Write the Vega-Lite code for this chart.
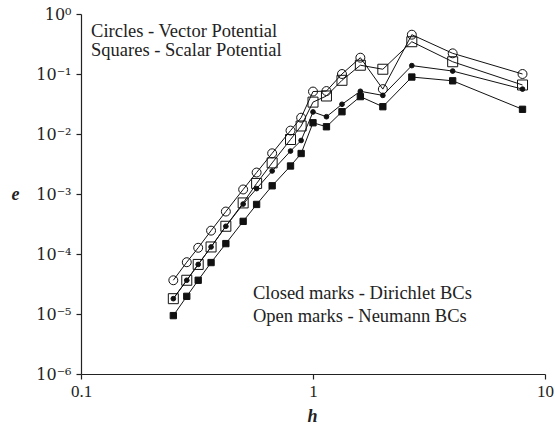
{
  "$schema": "https://vega.github.io/schema/vega-lite/v6.json",
  "width": 464,
  "height": 360,
  "autosize": {"type": "none"},
  "padding": {"left": 81, "top": 14, "right": 10, "bottom": 56},
  "background": "white",
  "config": {
    "view": {"stroke": null},
    "font": "Liberation Serif",
    "axis": {"grid": false, "domainColor": "#222", "tickColor": "#222", "labelColor": "#222", "titleColor": "#222", "labelFont": "Liberation Serif", "titleFont": "Liberation Serif", "labelFontSize": 17, "titleFontSize": 18, "tickSize": 5, "domainWidth": 1.2, "tickWidth": 1.2}
  },
  "datasets": {
    "pts": [
      {"h": 0.25, "e": 3.65e-5, "series": "Vector Neumann"},
      {"h": 0.2857, "e": 7.3e-5, "series": "Vector Neumann"},
      {"h": 0.32, "e": 1.27e-4, "series": "Vector Neumann"},
      {"h": 0.3636, "e": 2.45e-4, "series": "Vector Neumann"},
      {"h": 0.4211, "e": 5.1e-4, "series": "Vector Neumann"},
      {"h": 0.5, "e": 1.19e-3, "series": "Vector Neumann"},
      {"h": 0.5714, "e": 2.28e-3, "series": "Vector Neumann"},
      {"h": 0.6667, "e": 4.77e-3, "series": "Vector Neumann"},
      {"h": 0.8, "e": 1.14e-2, "series": "Vector Neumann"},
      {"h": 0.8889, "e": 1.87e-2, "series": "Vector Neumann"},
      {"h": 1, "e": 5.1e-2, "series": "Vector Neumann"},
      {"h": 1.1429, "e": 5.2e-2, "series": "Vector Neumann"},
      {"h": 1.3333, "e": 0.1, "series": "Vector Neumann"},
      {"h": 1.6, "e": 0.187, "series": "Vector Neumann"},
      {"h": 2, "e": 0.056, "series": "Vector Neumann"},
      {"h": 2.6667, "e": 0.452, "series": "Vector Neumann"},
      {"h": 4, "e": 0.221, "series": "Vector Neumann"},
      {"h": 8, "e": 0.1, "series": "Vector Neumann"},

      {"h": 0.25, "e": 1.8e-5, "series": "Scalar Neumann"},
      {"h": 0.2857, "e": 3.65e-5, "series": "Scalar Neumann"},
      {"h": 0.32, "e": 6.7e-5, "series": "Scalar Neumann"},
      {"h": 0.3636, "e": 1.31e-4, "series": "Scalar Neumann"},
      {"h": 0.4211, "e": 2.9e-4, "series": "Scalar Neumann"},
      {"h": 0.5, "e": 7.1e-4, "series": "Scalar Neumann"},
      {"h": 0.5714, "e": 1.5e-3, "series": "Scalar Neumann"},
      {"h": 0.6667, "e": 3.3e-3, "series": "Scalar Neumann"},
      {"h": 0.8, "e": 8.1e-3, "series": "Scalar Neumann"},
      {"h": 0.8889, "e": 1.36e-2, "series": "Scalar Neumann"},
      {"h": 1, "e": 3.4e-2, "series": "Scalar Neumann"},
      {"h": 1.1429, "e": 4.3e-2, "series": "Scalar Neumann"},
      {"h": 1.3333, "e": 7.85e-2, "series": "Scalar Neumann"},
      {"h": 1.6, "e": 0.14, "series": "Scalar Neumann"},
      {"h": 2, "e": 0.12, "series": "Scalar Neumann"},
      {"h": 2.6667, "e": 0.345, "series": "Scalar Neumann"},
      {"h": 4, "e": 0.16, "series": "Scalar Neumann"},
      {"h": 8, "e": 0.0656, "series": "Scalar Neumann"},

      {"h": 0.25, "e": 9.4e-6, "series": "Scalar Dirichlet"},
      {"h": 0.2857, "e": 1.97e-5, "series": "Scalar Dirichlet"},
      {"h": 0.32, "e": 3.65e-5, "series": "Scalar Dirichlet"},
      {"h": 0.3636, "e": 7.2e-5, "series": "Scalar Dirichlet"},
      {"h": 0.4211, "e": 1.49e-4, "series": "Scalar Dirichlet"},
      {"h": 0.5, "e": 3.5e-4, "series": "Scalar Dirichlet"},
      {"h": 0.5714, "e": 6.7e-4, "series": "Scalar Dirichlet"},
      {"h": 0.6667, "e": 1.37e-3, "series": "Scalar Dirichlet"},
      {"h": 0.8, "e": 2.93e-3, "series": "Scalar Dirichlet"},
      {"h": 0.8889, "e": 4.73e-3, "series": "Scalar Dirichlet"},
      {"h": 1, "e": 1.54e-2, "series": "Scalar Dirichlet"},
      {"h": 1.1429, "e": 1.32e-2, "series": "Scalar Dirichlet"},
      {"h": 1.3333, "e": 2.35e-2, "series": "Scalar Dirichlet"},
      {"h": 1.6, "e": 4.2e-2, "series": "Scalar Dirichlet"},
      {"h": 2, "e": 2.85e-2, "series": "Scalar Dirichlet"},
      {"h": 2.6667, "e": 0.089, "series": "Scalar Dirichlet"},
      {"h": 4, "e": 0.077, "series": "Scalar Dirichlet"},
      {"h": 8, "e": 0.0258, "series": "Scalar Dirichlet"},

      {"h": 0.25, "e": 1.8e-5, "series": "Vector Dirichlet"},
      {"h": 0.2857, "e": 3.65e-5, "series": "Vector Dirichlet"},
      {"h": 0.32, "e": 6.7e-5, "series": "Vector Dirichlet"},
      {"h": 0.3636, "e": 1.31e-4, "series": "Vector Dirichlet"},
      {"h": 0.4211, "e": 2.9e-4, "series": "Vector Dirichlet"},
      {"h": 0.5, "e": 6.8e-4, "series": "Vector Dirichlet"},
      {"h": 0.5714, "e": 1.23e-3, "series": "Vector Dirichlet"},
      {"h": 0.6667, "e": 2.42e-3, "series": "Vector Dirichlet"},
      {"h": 0.8, "e": 5.2e-3, "series": "Vector Dirichlet"},
      {"h": 0.8889, "e": 7.8e-3, "series": "Vector Dirichlet"},
      {"h": 1, "e": 2.33e-2, "series": "Vector Dirichlet"},
      {"h": 1.1429, "e": 1.94e-2, "series": "Vector Dirichlet"},
      {"h": 1.3333, "e": 3.13e-2, "series": "Vector Dirichlet"},
      {"h": 1.6, "e": 5.15e-2, "series": "Vector Dirichlet"},
      {"h": 2, "e": 4.4e-2, "series": "Vector Dirichlet"},
      {"h": 2.6667, "e": 0.138, "series": "Vector Dirichlet"},
      {"h": 4, "e": 0.112, "series": "Vector Dirichlet"},
      {"h": 8, "e": 0.056, "series": "Vector Dirichlet"}
    ],
    "notes": [
      {"h": 0.1105, "e": 0.52, "text": "Circles - Vector Potential"},
      {"h": 0.1105, "e": 0.25, "text": "Squares - Scalar Potential"},
      {"h": 0.551, "e": 2.25e-5, "text": "Closed marks - Dirichlet BCs"},
      {"h": 0.551, "e": 9.4e-6, "text": "Open marks - Neumann BCs"}
    ]
  },
  "layer": [
    {
      "data": {"name": "pts"},
      "mark": {"type": "line", "color": "#111", "strokeWidth": 1, "clip": false},
      "encoding": {
        "x": {"field": "h", "type": "quantitative",
              "scale": {"type": "log", "domain": [0.1, 10], "nice": false},
              "axis": {"values": [0.1, 1, 10], "labelExpr": "datum.value < 0.5 ? '0.1' : (datum.value < 5 ? '1' : '10')", "title": "h", "titleFontStyle": "italic", "titleFontWeight": "bold", "titleX": 231, "titleY": 42, "titleAlign": "center", "titleBaseline": "middle", "labelPadding": 4, "labelFlush": false}},
        "y": {"field": "e", "type": "quantitative",
              "scale": {"type": "log", "domain": [1e-6, 1], "nice": false},
              "axis": {"values": [1e-6, 1e-5, 1e-4, 1e-3, 1e-2, 1e-1, 1], "labelExpr": "'10' + (datum.value > 0.5 ? '⁰' : '⁻' + ['', '¹', '²', '³', '⁴', '⁵', '⁶'][round(-log(datum.value) / LN10)])", "labelFont": "DejaVu Serif", "labelFontSize": 16, "title": "e", "titleAngle": 0, "titleFontStyle": "italic", "titleFontWeight": "bold", "titleX": -66, "titleY": 180, "titleAlign": "center", "titleBaseline": "middle", "labelPadding": 5}},
        "detail": {"field": "series"}
      }
    },
    {
      "data": {"name": "pts"},
      "mark": {"type": "point", "stroke": "#111", "strokeWidth": 1, "opacity": 1, "clip": false},
      "encoding": {
        "x": {"field": "h", "type": "quantitative"},
        "y": {"field": "e", "type": "quantitative"},
        "shape": {"field": "series", "type": "nominal", "scale": {"domain": ["Vector Neumann", "Scalar Neumann", "Scalar Dirichlet", "Vector Dirichlet"], "range": ["circle", "square", "square", "circle"]}, "legend": null},
        "fill": {"field": "series", "type": "nominal", "scale": {"domain": ["Vector Neumann", "Scalar Neumann", "Scalar Dirichlet", "Vector Dirichlet"], "range": ["transparent", "transparent", "#111", "#111"]}, "legend": null},
        "size": {"field": "series", "type": "nominal", "scale": {"type": "ordinal", "domain": ["Vector Neumann", "Scalar Neumann", "Scalar Dirichlet", "Vector Dirichlet"], "range": [80, 100, 40, 22]}, "legend": null}
      }
    },
    {
      "data": {"name": "notes"},
      "mark": {"type": "text", "align": "left", "baseline": "middle", "font": "Liberation Serif", "fontSize": 18.5, "color": "#222"},
      "encoding": {
        "x": {"field": "h", "type": "quantitative"},
        "y": {"field": "e", "type": "quantitative"},
        "text": {"field": "text"}
      }
    }
  ]
}
